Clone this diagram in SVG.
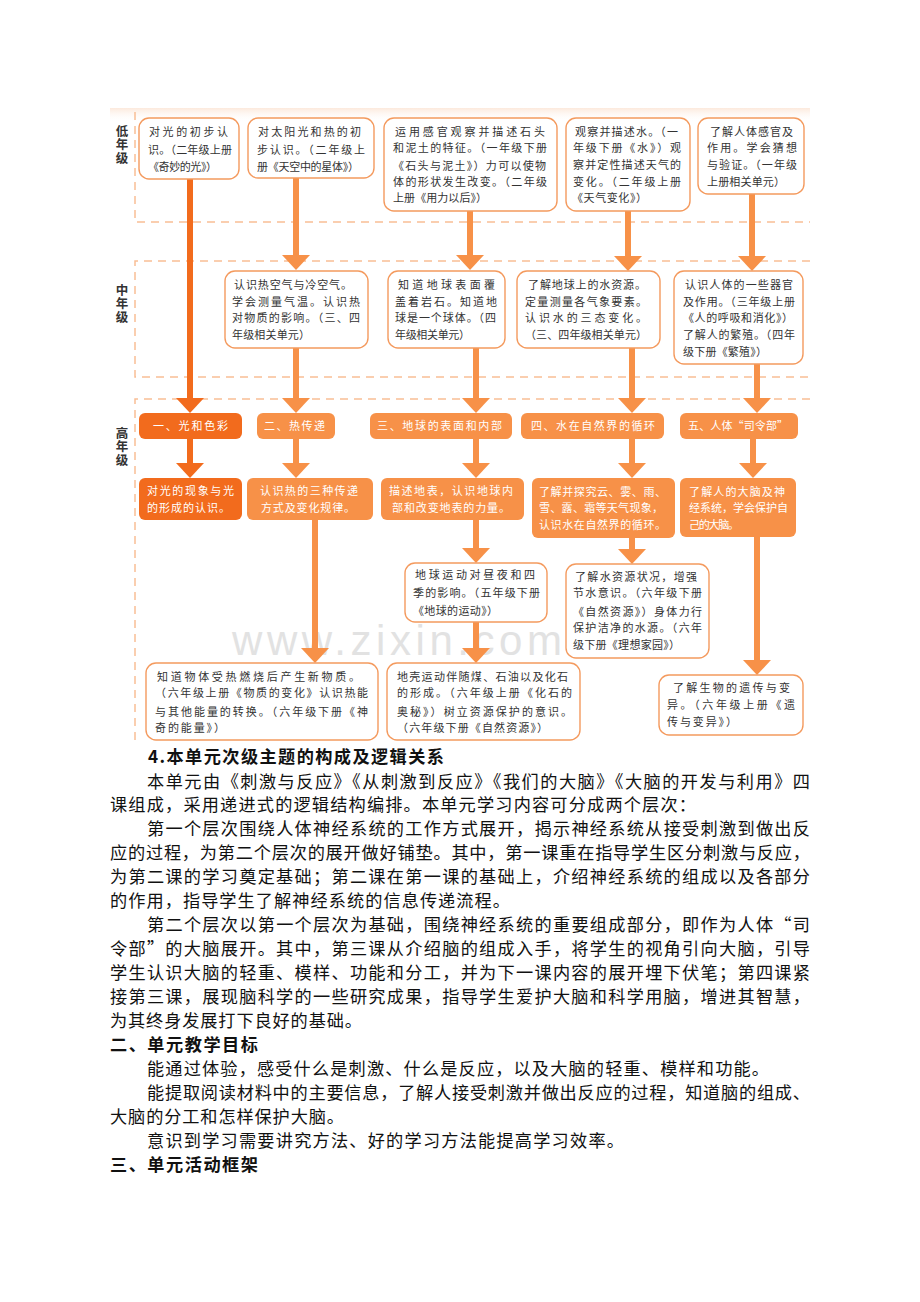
<svg xmlns="http://www.w3.org/2000/svg" width="920" height="1302" viewBox="0 0 920 1302">
<style>
.t{font-family:"Noto Sans CJK SC","Noto Sans",sans-serif;font-size:11px;fill:#333}
.w{font-family:"Noto Sans CJK SC","Noto Sans",sans-serif;font-size:11px;fill:#fff}
.lab{font-family:"Noto Sans CJK SC",sans-serif;font-size:12.5px;fill:#333;font-weight:bold;writing-mode:vertical-rl;letter-spacing:0.8px}
.box{fill:#fff;stroke:#F49A5E;stroke-width:1.4}
.fl{fill:#F79148}
.fd{fill:#F26B1D}
.dash{stroke:#F9BE95;stroke-width:1.5;stroke-dasharray:8 6;fill:none}
.al{stroke:#F79148;stroke-width:6;marker-end:url(#ml)}
.ad{stroke:#F26B1D;stroke-width:6;marker-end:url(#md)}
.body{font-family:"Noto Sans CJK SC",sans-serif;font-size:17.2px;fill:#111}
.hd{font-family:"Noto Sans CJK SC",sans-serif;font-size:17.2px;fill:#111;font-weight:bold}
</style>
<defs>
<linearGradient id="tint" x1="0" y1="0" x2="0" y2="1">
<stop offset="0" stop-color="#FCE9DC"/>
<stop offset="1" stop-color="#FFFFFF" stop-opacity="0"/>
</linearGradient>
<marker id="ml" markerUnits="userSpaceOnUse" markerWidth="28" markerHeight="28" refX="3" refY="14" orient="auto" viewBox="0 0 15 28">
<path d="M0,0 L15,14 L0,28 Z" fill="#F79148"/>
</marker>
<marker id="md" markerUnits="userSpaceOnUse" markerWidth="28" markerHeight="28" refX="3" refY="14" orient="auto" viewBox="0 0 15 28">
<path d="M0,0 L15,14 L0,28 Z" fill="#F26B1D"/>
</marker>
</defs>
<rect x="0" y="0" width="920" height="1302" fill="#fff"/>
<rect x="110" y="108" width="700" height="14" fill="url(#tint)"/>

<g id="zones">
<path class="dash" d="M135,112 V222 H810"/>
<path class="dash" d="M810,261 H135 V377 H810"/>
<path class="dash" d="M810,399 H135 V745"/>
</g>
<g id="row-labels">
<text class="lab" x="122" y="125">低年级</text>
<text class="lab" x="122" y="284">中年级</text>
<text class="lab" x="122" y="427">高年级</text>
</g>

<text id="watermark" x="232" y="655" font-family="Liberation Sans, sans-serif" font-size="42" fill="#E2E2E2" textLength="330">www.zixin.com</text>

<g id="connectors">
<line class="ad" x1="190" y1="179" x2="190" y2="401"/>
<line class="ad" x1="190" y1="439" x2="190" y2="466"/>
<line class="al" x1="296" y1="178" x2="296" y2="258"/>
<line class="al" x1="296" y1="348" x2="296" y2="401"/>
<line class="al" x1="296" y1="439" x2="296" y2="466"/>
<line class="al" x1="315" y1="520" x2="315" y2="651"/>
<line class="al" x1="470" y1="211" x2="470" y2="258"/>
<line class="al" x1="476" y1="348" x2="476" y2="401"/>
<line class="al" x1="476" y1="439" x2="476" y2="466"/>
<line class="al" x1="476" y1="520" x2="476" y2="551"/>
<line class="al" x1="476" y1="622" x2="476" y2="651"/>
<line class="al" x1="628" y1="211" x2="628" y2="259"/>
<line class="al" x1="632" y1="348" x2="632" y2="401"/>
<line class="al" x1="632" y1="439" x2="632" y2="466"/>
<line class="al" x1="632" y1="538" x2="632" y2="552"/>
<line class="al" x1="752" y1="194" x2="752" y2="259"/>
<line class="al" x1="757" y1="364" x2="757" y2="401"/>
<line class="al" x1="753" y1="439" x2="753" y2="466"/>
<line class="al" x1="757" y1="537" x2="757" y2="663"/>
</g>

<g id="low1">
<rect class="box" x="139" y="118" width="100" height="61" rx="10"/>
<text class="t" x="149" y="136" textLength="79">对光的初步认</text>
<text class="t" x="148" y="154" textLength="84">识。（二年级上册</text>
<text class="t" x="148" y="171" textLength="69">《奇妙的光》）</text>
</g>
<g id="low2">
<rect class="box" x="248" y="118" width="126" height="60" rx="10"/>
<text class="t" x="258" y="136" textLength="103">对太阳光和热的初</text>
<text class="t" x="257" y="154" textLength="108">步认识。（二年级上</text>
<text class="t" x="257" y="171" textLength="102">册《天空中的星体》）</text>
</g>
<g id="low3">
<rect class="box" x="384" y="118" width="173" height="93" rx="10"/>
<text class="t" x="395" y="136" textLength="150">运用感官观察并描述石头</text>
<text class="t" x="393" y="152" textLength="154">和泥土的特征。（一年级下册</text>
<text class="t" x="393" y="170" textLength="153">《石头与泥土》）力可以使物</text>
<text class="t" x="393" y="186" textLength="154">体的形状发生改变。（二年级</text>
<text class="t" x="393" y="202" textLength="94">上册《用力以后》）</text>
</g>
<g id="low4">
<rect class="box" x="566" y="118" width="124" height="93" rx="10"/>
<text class="t" x="575" y="136" textLength="103">观察并描述水。（一</text>
<text class="t" x="573" y="152" textLength="108">年级下册《水》）观</text>
<text class="t" x="573" y="169" textLength="108">察并定性描述天气的</text>
<text class="t" x="573" y="186" textLength="108">变化。（二年级上册</text>
<text class="t" x="572" y="202" textLength="75">《天气变化》）</text>
</g>
<g id="low5">
<rect class="box" x="698" y="118" width="106" height="76" rx="10"/>
<text class="t" x="710" y="136" textLength="83">了解人体感官及</text>
<text class="t" x="707" y="152" textLength="90">作用。学会猜想</text>
<text class="t" x="707" y="169" textLength="90">与验证。（一年级</text>
<text class="t" x="707" y="186" textLength="78">上册相关单元）</text>
</g>

<g id="mid1">
<rect class="box" x="225" y="271" width="143" height="77" rx="10"/>
<text class="t" x="234" y="289" textLength="118">认识热空气与冷空气。</text>
<text class="t" x="232" y="306" textLength="128">学会测量气温。认识热</text>
<text class="t" x="232" y="322" textLength="128">对物质的影响。（三、四</text>
<text class="t" x="232" y="339" textLength="78">年级相关单元）</text>
</g>
<g id="mid2">
<rect class="box" x="388" y="271" width="117" height="77" rx="10"/>
<text class="t" x="398" y="289" textLength="97">知道地球表面覆</text>
<text class="t" x="395" y="306" textLength="102">盖着岩石。知道地</text>
<text class="t" x="395" y="322" textLength="101">球是一个球体。（四</text>
<text class="t" x="395" y="339" textLength="75">年级相关单元）</text>
</g>
<g id="mid3">
<rect class="box" x="517" y="271" width="143" height="77" rx="10"/>
<text class="t" x="528" y="289" textLength="118">了解地球上的水资源。</text>
<text class="t" x="525" y="306" textLength="122">定量测量各气象要素。</text>
<text class="t" x="525" y="322" textLength="122">认识水的三态变化。</text>
<text class="t" x="525" y="339" textLength="122">（三、四年级相关单元）</text>
</g>
<g id="mid4">
<rect class="box" x="674" y="271" width="129" height="93" rx="10"/>
<text class="t" x="685" y="289" textLength="108">认识人体的一些器官</text>
<text class="t" x="683" y="306" textLength="112">及作用。（三年级上册</text>
<text class="t" x="683" y="322" textLength="110">《人的呼吸和消化》）</text>
<text class="t" x="683" y="339" textLength="112">了解人的繁殖。（四年</text>
<text class="t" x="683" y="356" textLength="84">级下册《繁殖》）</text>
</g>

<g id="h1">
<rect class="fd" x="139" y="413" width="103" height="26" rx="6"/>
<text class="w" x="153" y="430" textLength="75">一、光和色彩</text>
</g>
<g id="h2">
<rect class="fl" x="257" y="413" width="78" height="26" rx="6"/>
<text class="w" x="264" y="430" textLength="61">二、热传递</text>
</g>
<g id="h3">
<rect class="fl" x="370" y="413" width="142" height="26" rx="6"/>
<text class="w" x="377" y="430" textLength="125">三、地球的表面和内部</text>
</g>
<g id="h4">
<rect class="fl" x="521" y="413" width="143" height="26" rx="6"/>
<text class="w" x="531" y="430" textLength="124">四、水在自然界的循环</text>
</g>
<g id="h5">
<rect class="fl" x="680" y="413" width="118" height="26" rx="6"/>
<text class="w" x="688" y="430" textLength="100">五、人体“司令部”</text>
</g>

<g id="c1">
<rect class="fd" x="139" y="478" width="103" height="42" rx="6"/>
<text class="w" x="147" y="495" textLength="87">对光的现象与光</text>
<text class="w" x="147" y="512" textLength="83">的形成的认识。</text>
</g>
<g id="c2">
<rect class="fl" x="247" y="478" width="126" height="42" rx="6"/>
<text class="w" x="260" y="495" textLength="98">认识热的三种传递</text>
<text class="w" x="261" y="512" textLength="94">方式及变化规律。</text>
</g>
<g id="c3">
<rect class="fl" x="381" y="478" width="143" height="42" rx="6"/>
<text class="w" x="389" y="495" textLength="124">描述地表，认识地球内</text>
<text class="w" x="392" y="512" textLength="118">部和改变地表的力量。</text>
</g>
<g id="c4">
<rect class="fl" x="532" y="478" width="143" height="60" rx="6"/>
<text class="w" x="539" y="496" textLength="127">了解并探究云、雾、雨、</text>
<text class="w" x="539" y="512" textLength="124">雪、露、霜等天气现象，</text>
<text class="w" x="539" y="529" textLength="127">认识水在自然界的循环。</text>
</g>
<g id="c5">
<rect class="fl" x="680" y="478" width="116" height="59" rx="6"/>
<text class="w" x="689" y="496" textLength="96">了解人的大脑及神</text>
<text class="w" x="689" y="512" textLength="99">经系统，学会保护自</text>
<text class="w" x="689" y="529" textLength="50">己的大脑。</text>
</g>

<g id="earth-motion">
<rect class="box" x="405" y="563" width="142" height="59" rx="10"/>
<text class="t" x="415" y="579" textLength="120">地球运动对昼夜和四</text>
<text class="t" x="413" y="597" textLength="127">季的影响。（五年级下册</text>
<text class="t" x="413" y="615" textLength="85">《地球的运动》）</text>
</g>
<g id="water-res">
<rect class="box" x="566" y="564" width="143" height="94" rx="10"/>
<text class="t" x="575" y="581" textLength="122">了解水资源状况，增强</text>
<text class="t" x="573" y="597" textLength="129">节水意识。（六年级下册</text>
<text class="t" x="573" y="616" textLength="129">《自然资源》）身体力行</text>
<text class="t" x="573" y="632" textLength="129">保护洁净的水源。（六年</text>
<text class="t" x="573" y="649" textLength="107">级下册《理想家园》）</text>
</g>
<g id="heat-energy">
<rect class="box" x="146" y="663" width="232" height="77" rx="10"/>
<text class="t" x="157" y="681" textLength="203">知道物体受热燃烧后产生新物质。</text>
<text class="t" x="155" y="697" textLength="213">（六年级上册《物质的变化》认识热能</text>
<text class="t" x="155" y="716" textLength="213">与其他能量的转换。（六年级下册《神</text>
<text class="t" x="155" y="732" textLength="70">奇的能量》）</text>
</g>
<g id="crust">
<rect class="box" x="387" y="663" width="193" height="77" rx="10"/>
<text class="t" x="397" y="681" textLength="171">地壳运动伴随煤、石油以及化石</text>
<text class="t" x="397" y="697" textLength="175">的形成。（六年级上册《化石的</text>
<text class="t" x="397" y="716" textLength="175">奥秘》）树立资源保护的意识。</text>
<text class="t" x="397" y="732" textLength="151">（六年级下册《自然资源》）</text>
</g>
<g id="heredity">
<rect class="box" x="659" y="675" width="144" height="60" rx="10"/>
<text class="t" x="673" y="692" textLength="117">了解生物的遗传与变</text>
<text class="t" x="667" y="709" textLength="128">异。（六年级上册《遗</text>
<text class="t" x="667" y="726" textLength="70">传与变异》）</text>
</g>

<g id="body-text">
<text class="hd" x="148" y="763" textLength="296">4.本单元次级主题的构成及逻辑关系</text>
<text class="body" x="147" y="788" textLength="663">本单元由《刺激与反应》《从刺激到反应》《我们的大脑》《大脑的开发与利用》四</text>
<text class="body" x="110" y="811" textLength="586">课组成，采用递进式的逻辑结构编排。本单元学习内容可分成两个层次：</text>
<text class="body" x="147" y="835" textLength="663">第一个层次围绕人体神经系统的工作方式展开，揭示神经系统从接受刺激到做出反</text>
<text class="body" x="110" y="859" textLength="700">应的过程，为第二个层次的展开做好铺垫。其中，第一课重在指导学生区分刺激与反应，</text>
<text class="body" x="110" y="883" textLength="700">为第二课的学习奠定基础；第二课在第一课的基础上，介绍神经系统的组成以及各部分</text>
<text class="body" x="110" y="907" textLength="400">的作用，指导学生了解神经系统的信息传递流程。</text>
<text class="body" x="147" y="931" textLength="663">第二个层次以第一个层次为基础，围绕神经系统的重要组成部分，即作为人体“司</text>
<text class="body" x="110" y="955" textLength="700">令部”的大脑展开。其中，第三课从介绍脑的组成入手，将学生的视角引向大脑，引导</text>
<text class="body" x="110" y="979" textLength="700">学生认识大脑的轻重、模样、功能和分工，并为下一课内容的展开埋下伏笔；第四课紧</text>
<text class="body" x="110" y="1003" textLength="700">接第三课，展现脑科学的一些研究成果，指导学生爱护大脑和科学用脑，增进其智慧，</text>
<text class="body" x="110" y="1027" textLength="252">为其终身发展打下良好的基础。</text>
<text class="hd" x="110" y="1051" textLength="148">二、单元教学目标</text>
<text class="body" x="147" y="1075" textLength="622">能通过体验，感受什么是刺激、什么是反应，以及大脑的轻重、模样和功能。</text>
<text class="body" x="147" y="1099" textLength="663">能提取阅读材料中的主要信息，了解人接受刺激并做出反应的过程，知道脑的组成、</text>
<text class="body" x="110" y="1123" textLength="234">大脑的分工和怎样保护大脑。</text>
<text class="body" x="147" y="1147" textLength="477">意识到学习需要讲究方法、好的学习方法能提高学习效率。</text>
<text class="hd" x="110" y="1171" textLength="148">三、单元活动框架</text>
</g>
</svg>
